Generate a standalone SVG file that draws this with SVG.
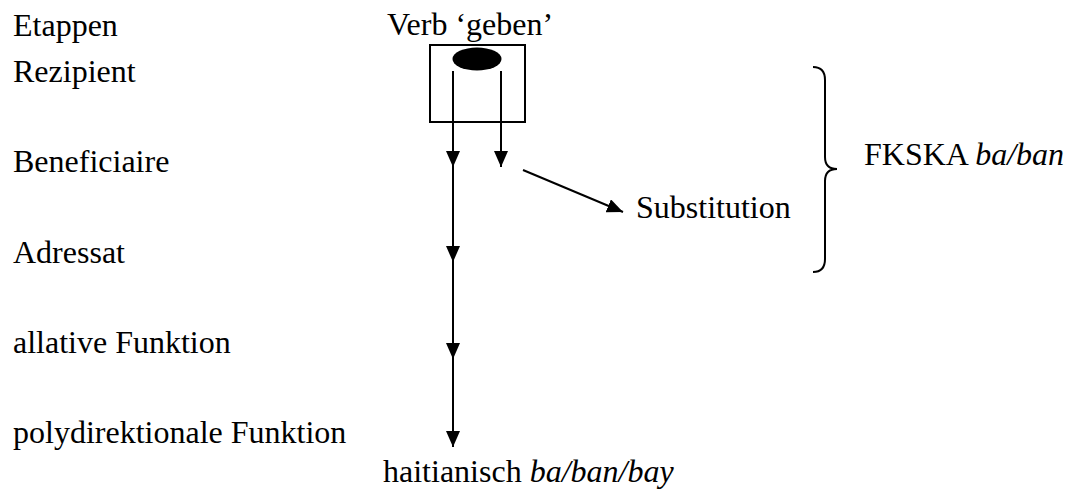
<svg xmlns="http://www.w3.org/2000/svg" width="1075" height="495" viewBox="0 0 1075 495" font-family="'Liberation Serif', 'DejaVu Serif', serif">
  <style>
    text { font-family: 'Liberation Serif', 'DejaVu Serif', serif; font-size: 32px; fill: #000; }
    .it { font-style: italic; }
    .ln { stroke: #000; stroke-width: 2; fill: none; }
  </style>
  <defs>
    <!-- arrowhead sized in stroke widths: 8x7 at stroke 2 gives 16x14 -->
    <marker id="arrow" viewBox="0 0 16 14" refX="16" refY="7" markerWidth="8" markerHeight="7" markerUnits="strokeWidth" orient="auto">
      <path d="M0,0 L16,7 L0,14 Z" fill="#000" stroke="none"/>
    </marker>
  </defs>
  <rect width="1075" height="495" fill="#fff"/>

  <!-- stage labels -->
  <g id="stages">
    <text x="13" y="36">Etappen</text>
    <text x="13" y="82">Rezipient</text>
    <text x="13" y="172">Beneficiaire</text>
    <text x="13" y="263">Adressat</text>
    <text x="13" y="353">allative Funktion</text>
    <text x="13" y="443">polydirektionale Funktion</text>
  </g>

  <!-- source verb -->
  <g id="verb">
    <text x="387" y="35">Verb ‘geben’</text>
    <rect x="430" y="45" width="95" height="77" class="ln"/>
    <ellipse cx="477" cy="59" rx="24.5" ry="11.5" fill="#000"/>
  </g>

  <g id="substitution">
    <text x="636" y="218">Substitution</text>
  </g>

  <g id="fkska">
    <path class="ln" d="M813,67 Q825,67 825,80 L825,157 Q825,169 837,169 Q825,169 825,181 L825,259 Q825,272 813,272"/>
    <text x="864" y="165">FKSKA <tspan class="it">ba/ban</tspan></text>
  </g>

  <g id="haitian">
    <text x="383" y="482">haitianisch <tspan class="it">ba/ban/bay</tspan></text>
  </g>

  <!-- connectors -->
  <g id="connectors" class="ln">
    <line x1="453" y1="71" x2="453" y2="167" marker-end="url(#arrow)"/>
    <line x1="453" y1="167" x2="453" y2="262" marker-end="url(#arrow)"/>
    <line x1="453" y1="262" x2="453" y2="359" marker-end="url(#arrow)"/>
    <line x1="453" y1="359" x2="453" y2="447" marker-end="url(#arrow)"/>
    <line x1="501" y1="71" x2="501" y2="167" marker-end="url(#arrow)"/>
    <line x1="523" y1="170" x2="623" y2="212" marker-end="url(#arrow)"/>
  </g>
</svg>
